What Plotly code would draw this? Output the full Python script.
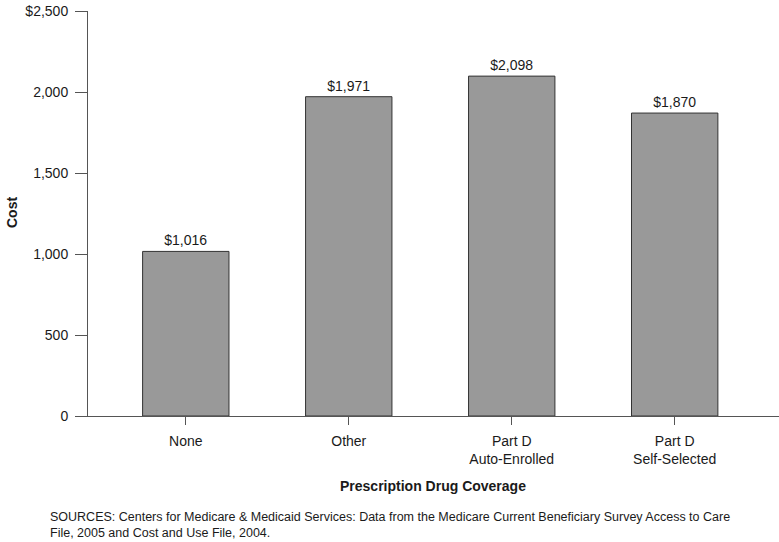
import plotly.graph_objects as go

categories = ["None", "Other", "Part D<br>Auto-Enrolled", "Part D<br>Self-Selected"]
costs = [1016, 1971, 2098, 1870]
bar_labels = ["$1,016", "$1,971", "$2,098", "$1,870"]
y_tickvals = [0, 500, 1000, 1500, 2000, 2500]
y_ticktext = ["0", "500", "1,000", "1,500", "2,000", "$2,500"]

FONT = "Liberation Sans, Arial, Helvetica, sans-serif"
TXT = "#1a1a1a"

W, H = 779, 542
L, T = 88, 11
PLOT_W = W - L
PLOT_H = 405
B = H - T - PLOT_H


def paper(xw, yw):
    """figure pixel -> paper coords"""
    return (xw - L) / PLOT_W, (H - B - yw) / PLOT_H


fig = go.Figure()
fig.add_trace(go.Bar(
    x=list(range(len(categories))),
    y=costs,
    text=bar_labels,
    textposition="outside",
    textfont=dict(family=FONT, size=14, color=TXT),
    cliponaxis=False,
    width=0.53,
    marker=dict(color="#999999", line=dict(color="#333333", width=1)),
    hoverinfo="skip",
))

cx, cy = paper(12, 213)
tx, ty = paper(433, 486)
sx, sy = paper(48, 525)

fig.update_layout(
    width=W, height=H,
    margin=dict(l=L, r=0, t=T, b=B, autoexpand=False),
    paper_bgcolor="white", plot_bgcolor="white",
    showlegend=False,
    font=dict(family=FONT, size=14, color=TXT),
    xaxis=dict(
        range=[-0.6, 3.64],
        tickvals=list(range(len(categories))),
        ticktext=categories,
        ticks="outside", ticklen=8, tickcolor="#555", tickwidth=1,
        showline=True, linecolor="#555", linewidth=1,
        showgrid=False, zeroline=False,
        tickfont=dict(family=FONT, size=14, color=TXT),
        ticklabelstandoff=4,
    ),
    yaxis=dict(
        range=[0, 2500],
        tickvals=y_tickvals, ticktext=y_ticktext,
        ticks="outside", ticklen=12, tickcolor="#555", tickwidth=1,
        showline=True, linecolor="#555", linewidth=1,
        showgrid=False, zeroline=False,
        tickfont=dict(family=FONT, size=14, color=TXT),
        ticklabelstandoff=4,
    ),
    annotations=[
        dict(text="<b>Cost</b>", x=cx, y=cy, xref="paper", yref="paper",
             xanchor="center", yanchor="middle",
             showarrow=False, textangle=-90,
             font=dict(family=FONT, size=14, color=TXT)),
        dict(text="<b>Prescription Drug Coverage</b>", x=tx, y=ty,
             xref="paper", yref="paper", xanchor="center", yanchor="middle",
             showarrow=False,
             font=dict(family=FONT, size=14, color=TXT)),
        dict(text="SOURCES: Centers for Medicare &amp; Medicaid Services: Data from the Medicare Current Beneficiary Survey Access to Care<br>File, 2005 and Cost and Use File, 2004.",
             x=sx, y=sy, xref="paper", yref="paper", showarrow=False,
             align="left", xanchor="left", yanchor="middle",
             font=dict(family=FONT, size=12.5, color=TXT)),
    ],
)

fig.write_html(
    "out.html",
    config={"displayModeBar": False},
    post_script="document.body.style.margin='0';document.body.style.padding='0';",
)
